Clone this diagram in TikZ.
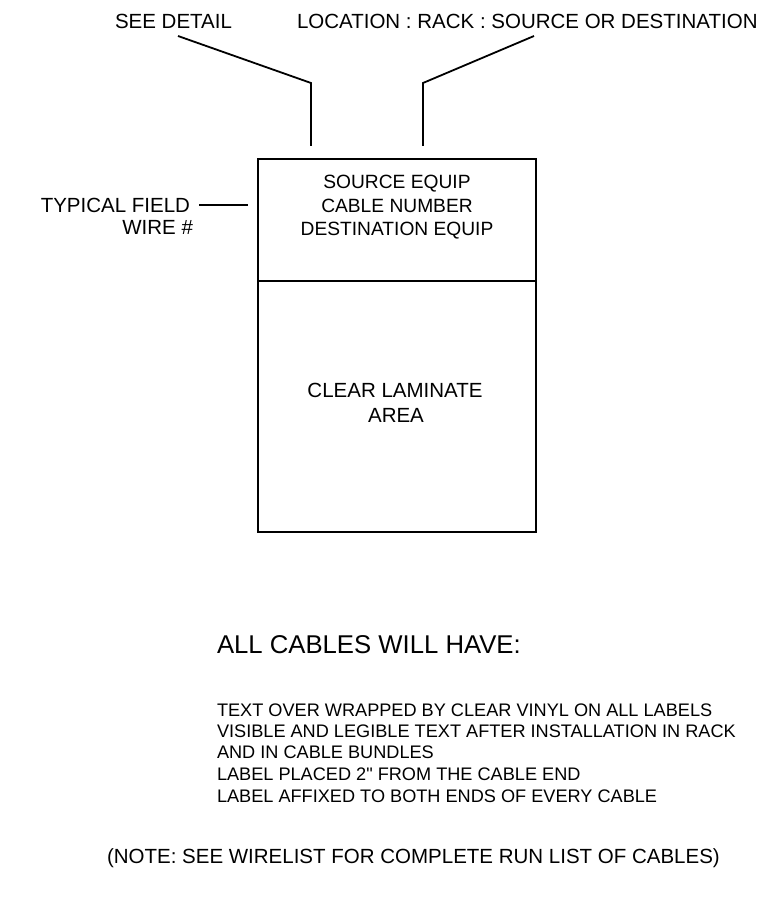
\documentclass[tikz,border=0pt]{standalone}
\usepackage{fontspec}
\setmainfont{Liberation Sans}[Ligatures=TeXOff]
\begin{document}
\begin{tikzpicture}[x=1pt,y=-1pt,
  lbl/.style={inner sep=0pt,outer sep=0pt},
  topfont/.style={font=\fontsize{20.5}{24}\selectfont},
  boxfont/.style={font=\fontsize{19.2}{23}\selectfont},
  headfont/.style={font=\fontsize{25.7}{30}\selectfont},
  listfont/.style={font=\fontsize{18.15}{21.5}\selectfont},
  notefont/.style={font=\fontsize{20.5}{24}\selectfont},
  wire/.style={line width=1.8pt},
  frame/.style={line width=1.8pt}]
\useasboundingbox[fill=white] (0,0) rectangle (762,901);

% top labels
\node[lbl,topfont,anchor=base west] (see) at (115,29) {SEE DETAIL};
\node[lbl,topfont,anchor=base west] (loc) at (297,29) {LOCATION : RACK : SOURCE OR DESTINATION};

% leader lines
\coordinate (l1) at (178,36);
\coordinate (l2) at (311,83);
\coordinate (l3) at (311,146);
\coordinate (r1) at (534,36);
\coordinate (r2) at (423,83);
\coordinate (r3) at (423,146);
\draw[wire] (l1) -- (l2) -- (l3);
\draw[wire] (r1) -- (r2) -- (r3);

% label box
\coordinate (bTL) at (258,159);
\coordinate (bBR) at (536,532);
\coordinate (dL) at (258,281);
\coordinate (dR) at (536,281);
\draw[frame] (bTL) rectangle (bBR);
\draw[frame] (dL) -- (dR);

\node[lbl,boxfont,anchor=base] (src) at (397,189) {SOURCE EQUIP};
\node[lbl,boxfont,anchor=base] (cab) at (397,213) {CABLE NUMBER};
\node[lbl,boxfont,anchor=base] (dst) at (397,236) {DESTINATION EQUIP};

\node[lbl,topfont,anchor=base] (clr) at (395,397) {CLEAR LAMINATE};
\node[lbl,topfont,anchor=base] (area) at (396,422) {AREA};

% typical field
\node[lbl,topfont,anchor=base east] (typ) at (190,213) {TYPICAL FIELD};
\node[lbl,topfont,anchor=base east] (wire) at (193,235) {WIRE \#};
\coordinate (t1) at (199,205);
\coordinate (t2) at (248,205);
\draw[line width=1.6pt] (t1) -- (t2);

% notes
\node[lbl,headfont,anchor=base west] (head) at (217,653) {ALL CABLES WILL HAVE:};
\node[lbl,listfont,anchor=base west] (n1) at (217,716) {TEXT OVER WRAPPED BY CLEAR VINYL ON ALL LABELS};
\node[lbl,listfont,anchor=base west] (n2) at (217,737) {VISIBLE AND LEGIBLE TEXT AFTER INSTALLATION IN RACK};
\node[lbl,listfont,anchor=base west] (n3) at (217,758) {AND IN CABLE BUNDLES};
\node[lbl,listfont,anchor=base west] (n4) at (217,780) {LABEL PLACED 2" FROM THE CABLE END};
\node[lbl,listfont,anchor=base west] (n5) at (217,802) {LABEL AFFIXED TO BOTH ENDS OF EVERY CABLE};

\node[lbl,notefont,anchor=base west] (note) at (107,863) {(NOTE: SEE WIRELIST FOR COMPLETE RUN LIST OF CABLES)};
\end{tikzpicture}
\end{document}
